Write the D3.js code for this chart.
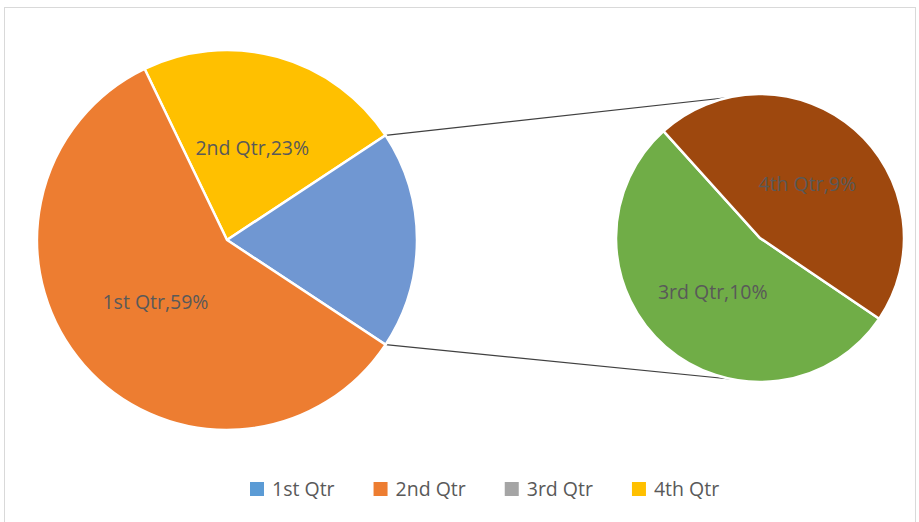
<!DOCTYPE html>
<html>
<head>
  <meta charset="utf-8">
  <style>
    body { margin: 0; background: #fff; }
    text { font-family: "Open Sans", Lato, sans-serif; }
  </style>
</head>
<body>
  <script src="https://cdn.jsdelivr.net/npm/d3@7/dist/d3.min.js"></script>
  <script>
    // data
    var categories = ["1st Qtr", "2nd Qtr", "3rd Qtr", "4th Qtr"];
    var sales = [8.2, 3.2, 1.4, 1.2];
    var legendColors = ["#5B9BD5", "#ED7D31", "#A5A5A5", "#FFC000"];

    var width = 919, height = 522;
    var total = d3.sum(sales);
    var fontSize = 19.5;

    // main pie: 2nd, Other (3rd+4th), 1st ; secondary: 3rd, 4th
    var mainData = [
      {name: categories[1], value: sales[1], color: "#FFC000", label: true},
      {name: "Other", value: sales[2] + sales[3], color: "#7097D2", label: false},
      {name: categories[0], value: sales[0], color: "#ED7D31", label: true}
    ];
    var subData = [
      {name: categories[2], value: sales[2], color: "#70AD47"},
      {name: categories[3], value: sales[3], color: "#9E480E"}
    ];

    var main = {cx: 227, cy: 240, r: 190};
    var sub = {cx: 760, cy: 238, r: 144};

    var svg = d3.select("body").append("svg")
      .attr("width", width)
      .attr("height", height);

    // chart frame
    svg.append("rect")
      .attr("x", 4.5).attr("y", 7.5)
      .attr("width", 911).attr("height", 530)
      .attr("fill", "none")
      .attr("stroke", "#d9d9d9");

    // "Other" slice centred on the right side
    var otherStart = (mainData[0].value + mainData[1].value / 2) / total * 2 * Math.PI;
    var mainPie = d3.pie().sort(null).value(function(d) { return d.value; })
      .startAngle(Math.PI / 2 - otherStart)
      .endAngle(Math.PI / 2 - otherStart + 2 * Math.PI);
    var mainArcs = mainPie(mainData);

    var subStart = 124.1 * Math.PI / 180;
    var subPie = d3.pie().sort(null).value(function(d) { return d.value; })
      .startAngle(subStart).endAngle(subStart + 2 * Math.PI);
    var subArcs = subPie(subData);

    var mainArc = d3.arc().innerRadius(0).outerRadius(main.r);
    var subArc = d3.arc().innerRadius(0).outerRadius(sub.r);

    // connector lines
    var other = mainArcs[1];
    var pTop = [main.cx + main.r * Math.sin(other.startAngle), main.cy - main.r * Math.cos(other.startAngle)];
    var pBot = [main.cx + main.r * Math.sin(other.endAngle), main.cy - main.r * Math.cos(other.endAngle)];
    svg.append("line")
      .attr("x1", pTop[0]).attr("y1", pTop[1])
      .attr("x2", sub.cx).attr("y2", sub.cy - sub.r)
      .attr("stroke", "#404040").attr("stroke-width", 1.2);
    svg.append("line")
      .attr("x1", pBot[0]).attr("y1", pBot[1])
      .attr("x2", sub.cx).attr("y2", sub.cy + sub.r)
      .attr("stroke", "#404040").attr("stroke-width", 1.2);

    var gMain = svg.append("g").attr("transform", "translate(" + main.cx + "," + main.cy + ")");
    gMain.selectAll("path").data(mainArcs).enter().append("path")
      .attr("d", mainArc)
      .attr("fill", function(d) { return d.data.color; })
      .attr("stroke", "#fff").attr("stroke-width", 2.5);

    var gSub = svg.append("g").attr("transform", "translate(" + sub.cx + "," + sub.cy + ")");
    gSub.selectAll("path").data(subArcs).enter().append("path")
      .attr("d", subArc)
      .attr("fill", function(d) { return d.data.color; })
      .attr("stroke", "#fff").attr("stroke-width", 2.5);

    function pct(v) { return Math.round(v / total * 100) + "%"; }

    gMain.selectAll("text").data(mainArcs.filter(function(d) { return d.data.label; }))
      .enter().append("text")
      .attr("transform", function(d) { return "translate(" + mainArc.centroid(d) + ")"; })
      .attr("text-anchor", "middle").attr("dy", "0.35em")
      .attr("font-size", fontSize).attr("fill", "#595959")
      .text(function(d) { return d.data.name + "," + pct(d.data.value); });

    gSub.selectAll("text").data(subArcs).enter().append("text")
      .attr("transform", function(d) { return "translate(" + subArc.centroid(d) + ")"; })
      .attr("text-anchor", "middle").attr("dy", "0.35em")
      .attr("font-size", fontSize).attr("fill", "#595959")
      .text(function(d) { return d.data.name + "," + pct(d.data.value); });

    // legend
    var legend = svg.append("g").attr("transform", "translate(250,489)");
    var lx = 0;
    categories.forEach(function(c, i) {
      var item = legend.append("g").attr("transform", "translate(" + lx + ",0)");
      item.append("rect").attr("x", 0).attr("y", -7).attr("width", 14).attr("height", 14)
        .attr("fill", legendColors[i]);
      var t = item.append("text").attr("x", 22).attr("dy", "0.35em")
        .attr("font-size", fontSize).attr("fill", "#595959").text(c);
      lx += 22 + t.node().getComputedTextLength() + 39;
    });
  </script>
</body>
</html>
